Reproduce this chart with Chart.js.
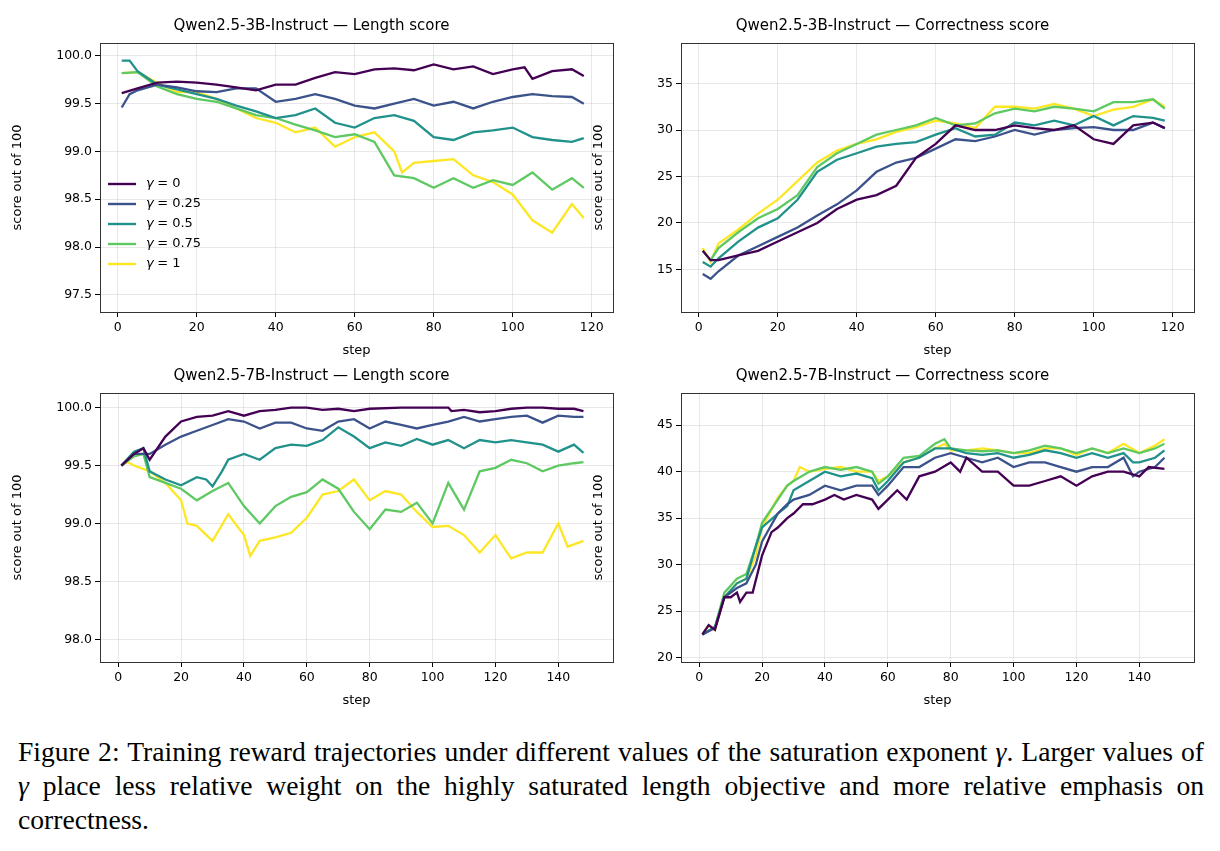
<!DOCTYPE html>
<html lang="en">
<head>
<meta charset="UTF-8">
<title>Figure 2</title>
<script src="https://cdn.jsdelivr.net/npm/chart.js"></script>
<style>
    body { margin: 0; background: #fff; width: 1220px; height: 851px; position: relative; overflow: hidden; }
    .panel { position: absolute; width: 610px; height: 357px; }
    #caption {
        position: absolute; left: 18px; top: 735px; width: 1186px;
        font-family: "Liberation Serif", "DejaVu Serif", serif; font-size: 27.6px; line-height: 34px;
        text-align: justify; color: #000;
    }
</style>
</head>
<body>
<div class="panel" style="left:10px;top:5px"><canvas id="c1"></canvas></div>
<div class="panel" style="left:591px;top:5px"><canvas id="c2"></canvas></div>
<div class="panel" style="left:10px;top:355px"><canvas id="c3"></canvas></div>
<div class="panel" style="left:591px;top:355px"><canvas id="c4"></canvas></div>
<div id="caption">Figure 2: Training reward trajectories under different values of the saturation exponent <i>γ</i>. Larger values of <i>γ</i> place less relative weight on the highly saturated length objective and more relative emphasis on correctness.</div>
<script>
const gammaLabels = ['0', '0.25', '0.5', '0.75', '1'];
const colors = ['#440154', '#3b528b', '#21918c', '#5ec962', '#fde725'];

// Qwen2.5-3B length score: [step, value]
const len3B_g0 = [[1,99.61],[5,99.66],[10,99.72],[15,99.73],[20,99.72],[25,99.70],[30,99.67],[35,99.64],[40,99.70],[45,99.70],[50,99.77],[55,99.83],[60,99.81],[65,99.86],[70,99.87],[75,99.85],[80,99.91],[85,99.86],[90,99.89],[95,99.81],[100,99.86],[103,99.88],[105,99.76],[110,99.84],[115,99.86],[118,99.79]];
const len3B_g25 = [[1,99.46],[3,99.60],[5,99.64],[10,99.70],[15,99.67],[20,99.63],[25,99.62],[30,99.66],[35,99.66],[40,99.52],[45,99.55],[50,99.60],[55,99.55],[60,99.48],[65,99.45],[70,99.50],[75,99.55],[80,99.48],[85,99.52],[90,99.45],[95,99.52],[100,99.57],[105,99.60],[110,99.58],[115,99.57],[118,99.50]];
const len3B_g50 = [[1,99.95],[3,99.95],[5,99.84],[10,99.70],[15,99.65],[20,99.60],[25,99.55],[30,99.48],[35,99.42],[40,99.35],[45,99.38],[50,99.45],[55,99.30],[60,99.25],[65,99.35],[70,99.38],[75,99.32],[80,99.15],[85,99.12],[90,99.20],[95,99.22],[100,99.25],[105,99.15],[110,99.12],[115,99.10],[118,99.14]];
const len3B_g75 = [[1,99.82],[5,99.83],[10,99.68],[15,99.60],[20,99.55],[25,99.52],[30,99.45],[35,99.38],[40,99.35],[45,99.28],[50,99.22],[55,99.15],[60,99.18],[65,99.10],[70,98.75],[75,98.72],[80,98.62],[85,98.72],[90,98.62],[95,98.70],[100,98.65],[105,98.78],[110,98.60],[115,98.72],[118,98.62]];
const len3B_g100 = [[1,99.82],[5,99.83],[10,99.72],[15,99.62],[20,99.62],[25,99.55],[30,99.45],[35,99.35],[40,99.30],[45,99.20],[50,99.25],[55,99.05],[60,99.15],[65,99.20],[70,99.00],[72,98.78],[75,98.88],[80,98.90],[85,98.92],[90,98.75],[95,98.68],[100,98.55],[105,98.28],[110,98.15],[115,98.45],[118,98.30]];

// Qwen2.5-3B correctness score
const cor3B_g0 = [[1,17.0],[3,16.0],[5,16.0],[10,16.5],[15,17.0],[20,18.0],[25,19.0],[30,20.0],[35,21.5],[40,22.5],[45,23.0],[50,24.0],[55,27.0],[60,28.5],[65,30.5],[70,30.0],[75,30.0],[80,30.5],[85,30.2],[90,30.0],[95,30.5],[100,29.0],[105,28.5],[110,30.5],[115,30.8],[118,30.2]];
const cor3B_g25 = [[1,14.5],[3,14.0],[5,14.8],[10,16.5],[15,17.5],[20,18.5],[25,19.5],[30,20.8],[35,22.0],[40,23.5],[45,25.5],[50,26.5],[55,27.0],[60,28.0],[65,29.0],[70,28.8],[75,29.3],[80,30.0],[85,29.5],[90,30.0],[95,30.2],[100,30.3],[105,30.0],[110,30.0],[115,30.8],[118,30.2]];
const cor3B_g50 = [[1,15.8],[3,15.3],[5,16.2],[10,18.0],[15,19.5],[20,20.5],[25,22.5],[30,25.5],[35,26.8],[40,27.5],[45,28.2],[50,28.5],[55,28.7],[60,29.5],[65,30.2],[70,29.3],[75,29.5],[80,30.8],[85,30.5],[90,31.0],[95,30.5],[100,31.5],[105,30.5],[110,31.5],[115,31.3],[118,31.0]];
const cor3B_g75 = [[1,17.0],[3,16.0],[5,17.3],[10,19.0],[15,20.5],[20,21.5],[25,23.0],[30,26.0],[35,27.5],[40,28.5],[45,29.5],[50,30.0],[55,30.5],[60,31.3],[65,30.5],[70,30.7],[75,31.8],[80,32.3],[85,32.0],[90,32.5],[95,32.3],[100,32.0],[105,33.0],[110,33.0],[115,33.3],[118,32.3]];
const cor3B_g100 = [[1,17.3],[3,15.8],[5,17.8],[10,19.3],[15,21.0],[20,22.5],[25,24.5],[30,26.5],[35,27.8],[40,28.5],[45,29.0],[50,29.8],[55,30.3],[60,31.0],[65,30.7],[70,30.2],[75,32.5],[80,32.5],[85,32.3],[90,32.8],[95,32.3],[100,31.5],[105,32.2],[110,32.5],[115,33.3],[118,32.5]];

// Qwen2.5-7B length score
const len7B_g0 = [[1,99.5],[5,99.6],[8,99.65],[10,99.55],[15,99.75],[20,99.88],[25,99.92],[30,99.93],[35,99.97],[40,99.93],[45,99.97],[50,99.98],[55,100],[60,100],[65,99.98],[70,99.99],[75,99.97],[80,99.99],[90,100],[100,100],[105,100],[106,99.97],[110,99.98],[115,99.96],[120,99.97],[125,99.99],[130,100],[135,100],[140,99.99],[145,99.99],[148,99.97]];
const len7B_g25 = [[1,99.5],[5,99.6],[10,99.6],[15,99.68],[20,99.75],[25,99.80],[30,99.85],[35,99.90],[40,99.88],[45,99.82],[50,99.87],[55,99.87],[60,99.82],[65,99.80],[70,99.88],[75,99.90],[80,99.82],[85,99.88],[90,99.85],[95,99.82],[100,99.85],[105,99.88],[110,99.92],[115,99.88],[120,99.90],[125,99.92],[130,99.93],[135,99.87],[140,99.93],[145,99.92],[148,99.92]];
const len7B_g50 = [[1,99.5],[5,99.62],[8,99.65],[10,99.45],[15,99.38],[20,99.33],[25,99.40],[28,99.38],[30,99.32],[33,99.45],[35,99.55],[40,99.60],[45,99.55],[50,99.65],[55,99.68],[60,99.67],[65,99.72],[70,99.83],[75,99.75],[80,99.65],[85,99.70],[90,99.67],[95,99.73],[100,99.68],[105,99.72],[110,99.65],[115,99.72],[120,99.70],[125,99.72],[130,99.70],[135,99.68],[140,99.62],[145,99.68],[148,99.61]];
const len7B_g75 = [[1,99.5],[5,99.58],[8,99.6],[10,99.40],[15,99.35],[20,99.30],[25,99.20],[30,99.28],[35,99.35],[40,99.15],[45,99.00],[50,99.15],[55,99.23],[60,99.27],[65,99.38],[70,99.30],[75,99.10],[80,98.95],[85,99.12],[90,99.10],[95,99.18],[100,99.00],[105,99.35],[110,99.12],[115,99.45],[120,99.48],[125,99.55],[130,99.52],[135,99.45],[140,99.50],[145,99.52],[148,99.53]];
const len7B_g100 = [[1,99.5],[3,99.53],[5,99.5],[10,99.45],[15,99.35],[20,99.20],[22,99.00],[25,98.98],[30,98.85],[35,99.08],[40,98.90],[42,98.72],[45,98.85],[50,98.88],[55,98.92],[60,99.05],[65,99.25],[70,99.28],[75,99.38],[80,99.20],[85,99.28],[90,99.25],[95,99.10],[100,98.97],[105,98.98],[110,98.90],[115,98.75],[120,98.90],[125,98.70],[130,98.75],[135,98.75],[140,99.00],[143,98.80],[148,98.85]];

// Qwen2.5-7B correctness score
const cor7B_g0 = [[1,22.5],[3,23.5],[5,23.0],[8,26.5],[10,26.5],[12,27.0],[13,26.0],[15,27.0],[17,27.0],[20,31.0],[23,33.5],[25,34.0],[28,35.0],[30,35.5],[33,36.5],[36,36.5],[40,37.0],[43,37.5],[46,37.0],[50,37.5],[55,37.0],[57,36.0],[60,37.0],[63,38.0],[66,37.0],[70,39.5],[75,40.0],[80,41.0],[83,40.0],[85,41.5],[90,40.0],[95,40.0],[100,38.5],[105,38.5],[110,39.0],[115,39.5],[120,38.5],[125,39.5],[130,40.0],[135,40.0],[140,39.5],[143,40.5],[148,40.3]];
const cor7B_g25 = [[1,22.5],[5,23.2],[8,26.5],[12,27.5],[15,28.0],[18,30.0],[20,32.5],[25,35.5],[28,36.5],[30,37.0],[35,37.5],[40,38.5],[45,38.0],[50,38.5],[55,38.5],[57,37.5],[60,38.5],[65,40.5],[70,40.5],[75,41.5],[80,42.0],[85,41.5],[90,41.0],[95,41.5],[100,40.5],[105,41.0],[110,41.0],[115,40.5],[120,40.0],[125,40.5],[130,40.5],[135,41.5],[138,39.5],[140,40.0],[145,40.5],[148,41.5]];
const cor7B_g50 = [[1,22.5],[5,23.3],[8,26.5],[12,28.0],[15,28.5],[18,32.0],[20,34.0],[25,35.5],[28,36.3],[30,38.0],[35,39.0],[40,40.0],[45,39.5],[50,39.8],[55,39.3],[57,38.0],[60,39.0],[65,41.0],[70,41.5],[75,42.5],[80,42.5],[85,42.0],[90,41.8],[95,42.0],[100,41.5],[105,41.8],[110,42.3],[115,42.0],[120,41.5],[125,42.0],[130,41.5],[135,42.0],[138,41.0],[140,41.0],[145,41.5],[148,42.3]];
const cor7B_g75 = [[1,22.5],[5,23.3],[8,27.0],[12,28.5],[15,29.0],[18,32.0],[20,34.5],[25,37.0],[28,38.5],[30,39.0],[35,40.0],[40,40.5],[45,40.2],[50,40.5],[55,40.0],[57,38.7],[60,39.5],[65,41.5],[70,41.7],[75,43.0],[78,43.5],[80,42.5],[85,42.3],[90,42.2],[95,42.3],[100,42.0],[105,42.3],[110,42.8],[115,42.5],[120,42.0],[125,42.5],[130,42.0],[135,42.5],[140,42.0],[145,42.5],[148,43.0]];
const cor7B_g100 = [[1,22.5],[3,23.5],[5,23.0],[8,26.5],[12,28.0],[15,28.5],[18,31.0],[20,34.0],[25,37.2],[28,38.5],[30,39.0],[32,40.5],[35,40.0],[40,40.3],[45,40.5],[50,40.0],[55,40.0],[57,39.0],[60,39.5],[65,41.0],[70,41.5],[75,42.5],[78,43.0],[80,42.3],[85,42.3],[90,42.5],[95,42.3],[100,42.0],[105,42.0],[110,42.5],[115,42.5],[120,41.8],[125,42.5],[130,42.0],[135,43.0],[140,42.0],[145,42.8],[148,43.5]];

const xTicks3B = [0, 20, 40, 60, 80, 100, 120];
const xTicks7B = [0, 20, 40, 60, 80, 100, 120, 140];
const yTicksLen3B = [97.5, 98.0, 98.5, 99.0, 99.5, 100.0];
const yTicksCor3B = [15, 20, 25, 30, 35];
const yTicksLen7B = [98.0, 98.5, 99.0, 99.5, 100.0];
const yTicksCor7B = [20, 25, 30, 35, 40, 45];

const FONT = '"DejaVu Sans", sans-serif';

// legend drawn inside the axes, plus the closed axes frame
const insideLegend = {
    id: 'insideLegend',
    afterDatasetsDraw(chart) {
        const ctx = chart.ctx, a = chart.chartArea;
        ctx.save();
        ctx.strokeStyle = '#333';
        ctx.lineWidth = 1;
        ctx.strokeRect(Math.round(a.left) + 0.5, Math.round(a.top) + 0.5, Math.round(a.width), Math.round(a.height));
        if (chart.options.plugins.insideLegend.show) {
            const x0 = a.left + 8, y0 = a.bottom - 128;
            gammaLabels.forEach((g, i) => {
                const y = y0 + i * 20;
                ctx.strokeStyle = colors[i];
                ctx.lineWidth = 2.4;
                ctx.beginPath(); ctx.moveTo(x0, y); ctx.lineTo(x0 + 28, y); ctx.stroke();
                ctx.fillStyle = '#000';
                ctx.textBaseline = 'middle';
                ctx.font = 'italic 13px ' + FONT;
                ctx.fillText('γ', x0 + 38, y);
                ctx.font = '13px ' + FONT;
                ctx.fillText(' = ' + g, x0 + 45, y);
            });
        }
        ctx.restore();
    }
};

function makeChart(id, title, series, xTicks, xRange, yTicks, yRange, decimals, legend) {
    new Chart(document.getElementById(id), {
        type: 'line',
        data: {
            datasets: series.map((s, i) => ({
                label: 'γ = ' + gammaLabels[i],
                data: s.map(p => ({ x: p[0], y: p[1] })),
                borderColor: colors[i],
                borderWidth: 2.3,
                pointRadius: 0,
                tension: 0,
                fill: false
            }))
        },
        options: {
            responsive: true,
            maintainAspectRatio: false,
            animation: false,
            layout: { padding: { left: 0, right: 7, top: 0, bottom: 0 } },
            plugins: {
                legend: { display: false },
                tooltip: { enabled: false },
                title: { display: true, text: title, color: '#000', font: { family: FONT, size: 15, weight: 'normal' }, padding: { top: 12, bottom: 8 } },
                insideLegend: { show: legend }
            },
            scales: {
                x: {
                    type: 'linear', min: xRange[0], max: xRange[1],
                    afterBuildTicks: sc => { sc.ticks = xTicks.map(v => ({ value: v })); },
                    afterFit: sc => { sc.height = 50; },
                    grid: { color: 'rgba(0,0,0,0.09)', tickColor: '#000', tickLength: 5 },
                    border: { color: '#333', width: 1 },
                    ticks: { color: '#000', font: { family: FONT, size: 12.5 }, maxRotation: 0, padding: 3 },
                    title: { display: true, text: 'step', color: '#000', font: { family: FONT, size: 13 }, padding: { top: 0 } }
                },
                y: {
                    min: yRange[0], max: yRange[1],
                    afterBuildTicks: sc => { sc.ticks = yTicks.map(v => ({ value: v })); },
                    afterFit: sc => { sc.width = 90; },
                    grid: { color: 'rgba(0,0,0,0.09)', tickColor: '#000', tickLength: 5 },
                    border: { color: '#333', width: 1 },
                    ticks: { color: '#000', font: { family: FONT, size: 12.5 }, padding: 3, callback: v => v.toFixed(decimals) },
                    title: { display: true, text: 'score out of 100', color: '#000', font: { family: FONT, size: 13 }, padding: { top: 0, bottom: 0 } }
                }
            }
        },
        plugins: [insideLegend]
    });
}

makeChart('c1', 'Qwen2.5-3B-Instruct — Length score',
    [len3B_g0, len3B_g25, len3B_g50, len3B_g75, len3B_g100], xTicks3B, [-4.5, 125.4], yTicksLen3B, [97.32, 100.135], 1, true);
makeChart('c2', 'Qwen2.5-3B-Instruct — Correctness score',
    [cor3B_g0, cor3B_g25, cor3B_g50, cor3B_g75, cor3B_g100], xTicks3B, [-4.5, 125.4], yTicksCor3B, [10.42, 39.36], 0, false);
makeChart('c3', 'Qwen2.5-7B-Instruct — Length score',
    [len7B_g0, len7B_g25, len7B_g50, len7B_g75, len7B_g100], xTicks7B, [-5.8, 157.4], yTicksLen7B, [97.805, 100.126], 1, false);
makeChart('c4', 'Qwen2.5-7B-Instruct — Correctness score',
    [cor7B_g0, cor7B_g25, cor7B_g50, cor7B_g75, cor7B_g100], xTicks7B, [-5.8, 157.4], yTicksCor7B, [19.54, 48.46], 0, false);
</script>
</body>
</html>
